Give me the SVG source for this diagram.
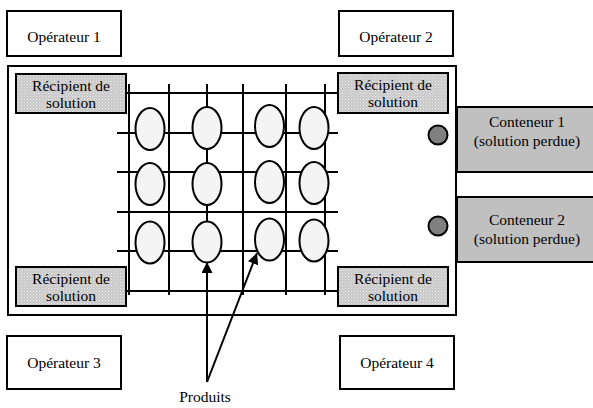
<svg xmlns="http://www.w3.org/2000/svg" width="593" height="408" viewBox="0 0 593 408">
<defs>
<pattern id="dots" width="3" height="3" patternUnits="userSpaceOnUse">
<rect width="3" height="3" fill="#c8c8c8"/>
<rect x="0" y="0" width="1" height="1" fill="#eeeeee"/>
<rect x="1.5" y="1.5" width="1" height="1" fill="#e6e6e6"/>
</pattern>
<marker id="ah" viewBox="0 0 10 10" refX="10" refY="5" markerWidth="11" markerHeight="11" markerUnits="userSpaceOnUse" orient="auto">
<path d="M0,0 L10,5 L0,10 z" fill="#000"/>
</marker>
<style>
text{font-family:"Liberation Serif","Times New Roman",serif;font-size:15.5px;fill:#000;text-anchor:middle}
.op{fill:#fff;stroke:#000;stroke-width:2}
.rec{fill:url(#dots);stroke:#000;stroke-width:2}
.cont{fill:#c0c0c0;stroke:#000;stroke-width:2}
.g line{stroke:#000;stroke-width:2}
.prod{fill:#f4f4f4;stroke:#000;stroke-width:2}
.valve{fill:#808080;stroke:#000;stroke-width:2}
.arr{stroke:#000;stroke-width:2;fill:none}
</style>
</defs>
<rect width="593" height="408" fill="#fff"/>

<g id="operateur1"><rect class="op" x="7" y="11" width="114" height="45"/><text x="64" y="42">Opérateur 1</text></g>
<g id="operateur2"><rect class="op" x="339" y="11" width="114" height="45"/><text x="396" y="42">Opérateur 2</text></g>
<g id="operateur3"><rect class="op" x="7" y="336" width="114" height="53"/><text x="64" y="368">Opérateur 3</text></g>
<g id="operateur4"><rect class="op" x="340" y="336" width="114" height="53"/><text x="397" y="368">Opérateur 4</text></g>

<g id="zone"><rect x="8" y="66" width="448" height="249" fill="#fff" stroke="#000" stroke-width="2"/></g>

<g id="grille" class="g">
<line x1="117" y1="93" x2="338" y2="93"/>
<line x1="117" y1="133" x2="338" y2="133"/>
<line x1="117" y1="172" x2="338" y2="172"/>
<line x1="117" y1="212" x2="338" y2="212"/>
<line x1="117" y1="251" x2="338" y2="251"/>
<line x1="117" y1="291" x2="338" y2="291"/>
<line x1="129" y1="84" x2="129" y2="295"/>
<line x1="169" y1="84" x2="169" y2="295"/>
<line x1="207" y1="84" x2="207" y2="262"/>
<line x1="243" y1="84" x2="243" y2="295"/>
<line x1="286" y1="84" x2="286" y2="295"/>
<line x1="325" y1="84" x2="325" y2="295"/>
</g>

<g id="produits">
<ellipse class="prod" cx="150" cy="129" rx="14.5" ry="21"/>
<ellipse class="prod" cx="207" cy="128" rx="14.5" ry="21"/>
<ellipse class="prod" cx="269.5" cy="126" rx="14.5" ry="21"/>
<ellipse class="prod" cx="314" cy="128" rx="14.5" ry="21"/>
<ellipse class="prod" cx="150" cy="184" rx="14.5" ry="21"/>
<ellipse class="prod" cx="207" cy="184" rx="14.5" ry="21"/>
<ellipse class="prod" cx="269.5" cy="182" rx="14.5" ry="21"/>
<ellipse class="prod" cx="314" cy="183" rx="14.5" ry="21"/>
<ellipse class="prod" cx="150" cy="242.5" rx="14.5" ry="21"/>
<ellipse class="prod" cx="207" cy="242" rx="14.5" ry="20.5"/>
<ellipse class="prod" cx="269.5" cy="239.5" rx="14.5" ry="21"/>
<ellipse class="prod" cx="314" cy="240.5" rx="14.5" ry="21"/>
</g>

<g id="recipient1"><rect class="rec" x="16" y="74" width="110" height="39"/><text x="71" y="91">Récipient de</text><text x="71" y="108">solution</text></g>
<g id="recipient2"><rect class="rec" x="338" y="73" width="110" height="40"/><text x="393" y="90">Récipient de</text><text x="393" y="107">solution</text></g>
<g id="recipient3"><rect class="rec" x="16" y="267" width="110" height="39"/><text x="71" y="284">Récipient de</text><text x="71" y="301">solution</text></g>
<g id="recipient4"><rect class="rec" x="338" y="267" width="110" height="39"/><text x="393" y="284">Récipient de</text><text x="393" y="301">solution</text></g>

<g id="vanne1"><circle class="valve" cx="438" cy="135" r="9.5"/></g>
<g id="vanne2"><circle class="valve" cx="438" cy="226" r="9.5"/></g>

<g id="conteneur1"><rect class="cont" x="457" y="107" width="140" height="65"/><text x="527" y="127">Conteneur 1</text><text x="527" y="146">(solution perdue)</text></g>
<g id="conteneur2"><rect class="cont" x="457" y="197" width="140" height="65"/><text x="527" y="225">Conteneur 2</text><text x="527" y="244">(solution perdue)</text></g>

<g id="connecteurs">
<line class="arr" x1="207" y1="382" x2="207" y2="262" marker-end="url(#ah)"/>
<line class="arr" x1="207" y1="382" x2="257" y2="253" marker-end="url(#ah)"/>
</g>
<g id="label-produits"><text x="205" y="402">Produits</text></g>
</svg>
